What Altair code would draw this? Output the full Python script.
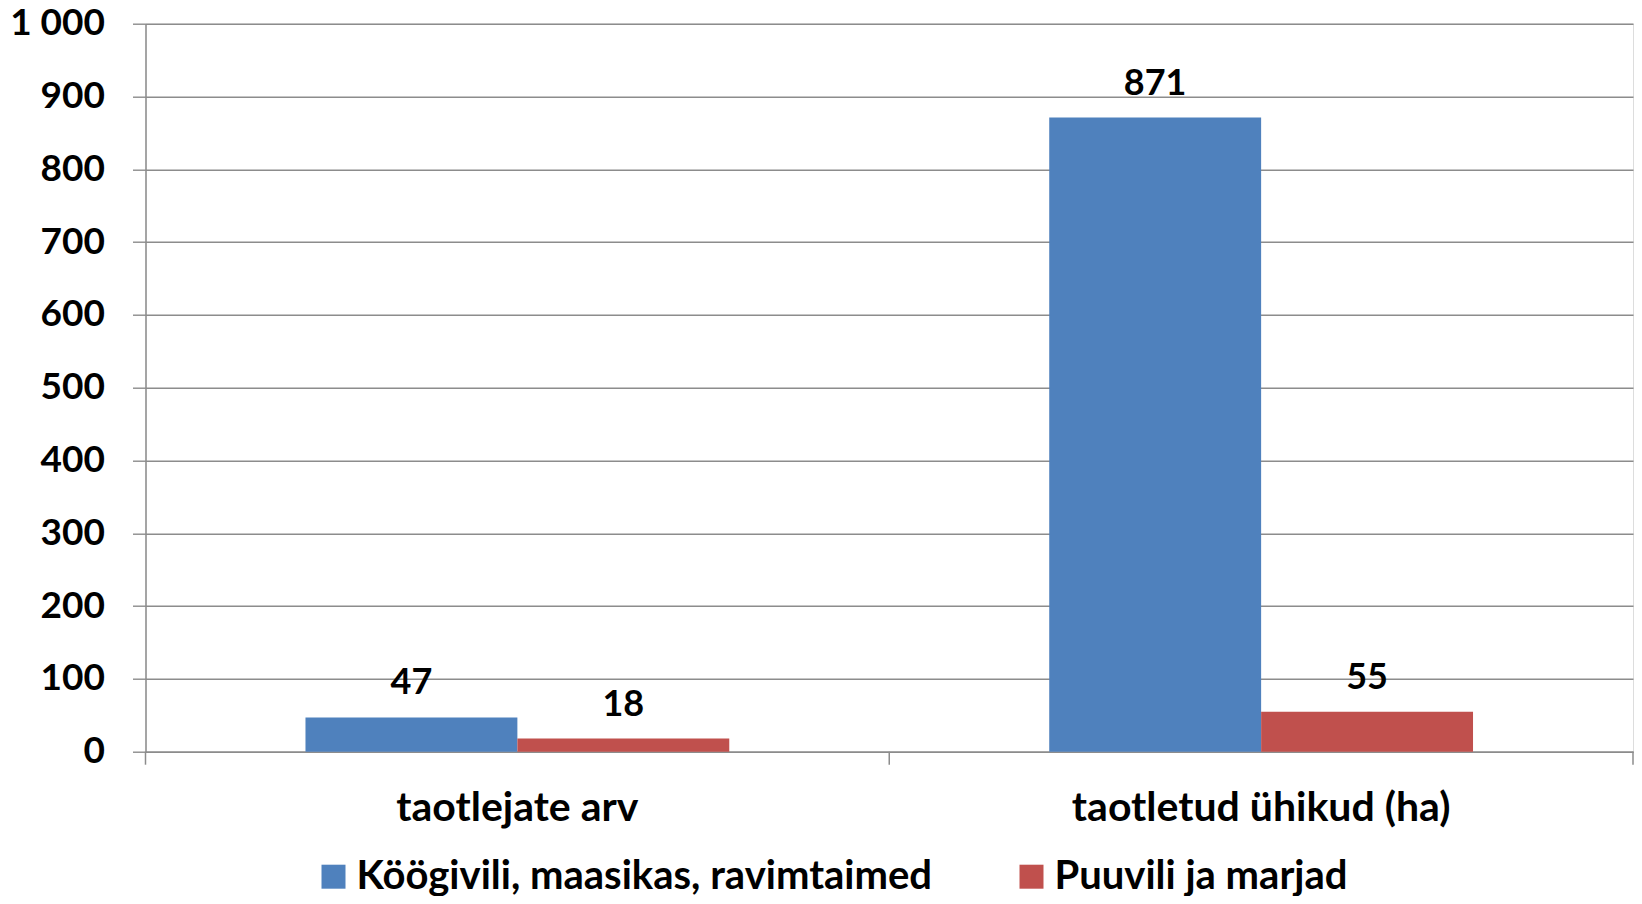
import altair as alt
import pandas as pd

categories = ["taotlejate arv", "taotletud ühikud (ha)"]
series_names = ["Köögivili, maasikas, ravimtaimed", "Puuvili ja marjad"]
values_koogivili = [47, 871]
values_puuvili = [18, 55]
series_colors = ["#4F81BD", "#C0504D"]
y_ticks = [0, 100, 200, 300, 400, 500, 600, 700, 800, 900, 1000]

rows = []
for cat, v in zip(categories, values_koogivili):
    rows.append({"cat": cat, "series": series_names[0], "value": v})
for cat, v in zip(categories, values_puuvili):
    rows.append({"cat": cat, "series": series_names[1], "value": v})
df = pd.DataFrame(rows)
cat_df = pd.DataFrame({"cat": categories})
last_df = pd.DataFrame({"cat": categories[-1:]})

W, H = 1487.5, 728
FONT = "Lato"
GRID = "#8c8c8c"

x_scale = alt.Scale(domain=categories, paddingInner=0, paddingOuter=0)
x_enc = alt.X("cat:N", scale=x_scale, sort=categories, title=None,
              axis=alt.Axis(labelAngle=0, labelFont=FONT, labelFontSize=41,
                            labelFontWeight="bold", labelColor="black",
                            ticks=False, tickSize=0, labelPadding=69, labelLimit=2000,
                            labelBaseline="alphabetic",
                            domainColor=GRID, domainWidth=1.5, grid=False))
xoff = alt.XOffset("series:N", sort=series_names,
                   scale=alt.Scale(paddingOuter=0.755, paddingInner=0))
y_enc = alt.Y("value:Q", scale=alt.Scale(domain=[0, 1000], nice=False), title=None,
              axis=alt.Axis(values=y_ticks, grid=True, gridColor=GRID, gridWidth=1.4,
                            tickSize=13, tickColor=GRID, tickWidth=1.4,
                            domainColor=GRID, domainWidth=1.5,
                            labelFont=FONT, labelFontSize=37, labelFontWeight="bold",
                            labelColor="black", labelPadding=28,
                            labelExpr="replace(format(datum.value, ','), ',', ' ')"))

color = alt.Color("series:N", sort=series_names,
                  scale=alt.Scale(domain=series_names, range=series_colors),
                  legend=alt.Legend(title=None, orient="none", direction="horizontal",
                                    legendX=168, legendY=833,
                                    labelFont=FONT, labelFontSize=40, labelFontWeight="bold",
                                    labelColor="black", symbolType="square",
                                    symbolSize=576, symbolStrokeWidth=0, symbolOpacity=1,
                                    labelOffset=3, columnPadding=79, labelLimit=2000))

bars = alt.Chart(df).mark_bar(stroke=None).encode(x=x_enc, xOffset=xoff, y=y_enc, color=color)
labels = alt.Chart(df).mark_text(font=FONT, fontSize=36, fontWeight="bold", color="black",
                                 baseline="alphabetic", align="center", dy=-23).encode(
    x=alt.X("cat:N", sort=categories), xOffset=xoff, y="value:Q", text="value:Q")
ticks = alt.Chart(cat_df).mark_rule(color=GRID, strokeWidth=1.5).encode(
    x=alt.X("cat:N", sort=categories, bandPosition=0),
    y=alt.value(H), y2=alt.value(H + 13))
ticks_end = alt.Chart(last_df).mark_rule(color=GRID, strokeWidth=1.5).encode(
    x=alt.X("cat:N", sort=categories, bandPosition=1),
    y=alt.value(H), y2=alt.value(H + 13))

chart = alt.layer(bars, labels, ticks, ticks_end).properties(
    width=W, height=H,
    autosize=alt.AutoSizeParams(type="none"),
    padding={"left": 137.5, "top": 15.7, "right": 1, "bottom": 144.3},
).configure_view(stroke=None).configure(background="white")

chart.save("out.html", embed_options={"renderer": "svg", "actions": False})
